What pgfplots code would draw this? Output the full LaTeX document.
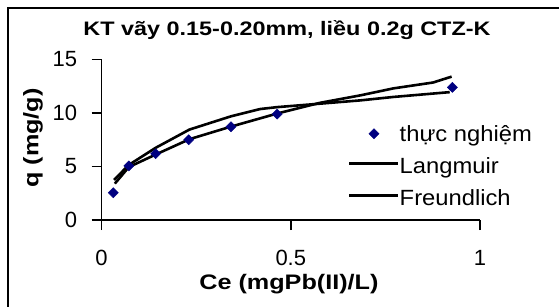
\documentclass[border=0pt]{standalone}
\usepackage{fontspec}
\setmainfont{Liberation Sans}
\newfontfamily\widef[FakeStretch=1.2]{Liberation Sans}
\newfontfamily\legf[FakeStretch=1.08]{Liberation Sans}
\usepackage{pgfplots}
\pgfplotsset{compat=1.18}
\definecolor{navy}{RGB}{0,0,128}
\pgfplotsset{
  mylegline/.style={legend image code/.code={\draw[##1] (0pt,5pt) -- (49pt,5pt);}},
  mylegmark/.style={legend image code/.code={\draw[##1] plot coordinates {(24.5pt,3pt)};}},
}
\begin{document}
\begin{tikzpicture}[x=1pt,y=1pt]
\path[use as bounding box] (0,0) rectangle (559,306);
\draw[line width=2pt] (7.8,297.5) rectangle (620,-60);
\begin{axis}[
  at={(101.6pt,86pt)}, anchor=south west,
  scale only axis, width=378.4pt, height=160.5pt,
  xmin=0, xmax=1, ymin=0, ymax=15,
  axis lines*=left,
  axis line style={line width=1.5pt},
  tick align=outside,
  major tick length=10pt,
  tick style={line width=1.5pt, black},
  xtick={0,0.5,1}, ytick={0,5,10,15},
  xticklabels={0,0.5,1},
  /pgf/number format/assume math mode=true,
  tick label style={font=\fontsize{22}{24}\selectfont},
  xticklabel style={yshift=-19pt, inner sep=1pt},
  yticklabel style={xshift=-11pt},
  title={KT vãy 0.15-0.20mm, liều 0.2g CTZ-K},
  title style={at={(axis description cs:0.49,1.111)}, anchor=base, inner sep=0pt, font=\widef\bfseries\fontsize{19.5}{22}\selectfont},
  xlabel={Ce (mgPb(II)/L)},
  xlabel style={at={(axis description cs:0.495,-0.43)}, anchor=base, inner sep=0pt, font=\widef\bfseries\fontsize{21}{24}\selectfont},
  ylabel={q (mg/g)},
  ylabel style={at={(axis description cs:-0.167,0.511)}, anchor=base, inner sep=0pt, font=\widef\bfseries\fontsize{21}{24}\selectfont},
  legend style={draw=none, fill=none, at={(axis description cs:0.651,0.5888)}, anchor=north west, inner sep=0pt, row sep=10pt,
    nodes={inner sep=0pt, text height=16pt, text depth=6pt, font=\legf\fontsize{22}{24}\selectfont}},
  legend cell align=left,
  clip=false,
]
\addplot[only marks, mark=square*, mark size=3.6pt, mark options={rotate=45, fill=navy, draw=navy}, color=navy, mylegmark]
  coordinates {(0.031,2.55) (0.072,5.05) (0.143,6.2) (0.23,7.5) (0.342,8.72) (0.464,9.9) (0.927,12.4)};
\addlegendentry{thực nghiệm}
\addplot[black, line width=2.6pt, line join=round, no marks, mylegline]
  coordinates {(0.033,3.75) (0.072,5.15) (0.143,6.75) (0.232,8.45) (0.341,9.68) (0.419,10.37) (0.464,10.55) (0.58,10.88) (0.684,11.18) (0.771,11.5) (0.92,11.95)};
\addlegendentry{Langmuir}
\addplot[black, line width=2.6pt, line join=round, no marks, mylegline]
  coordinates {(0.035,3.4) (0.072,4.95) (0.143,6.12) (0.232,7.55) (0.341,8.72) (0.464,9.95) (0.577,10.95) (0.684,11.65) (0.771,12.3) (0.876,12.85) (0.925,13.4)};
\addlegendentry{Freundlich}
\end{axis}
\end{tikzpicture}
\end{document}
